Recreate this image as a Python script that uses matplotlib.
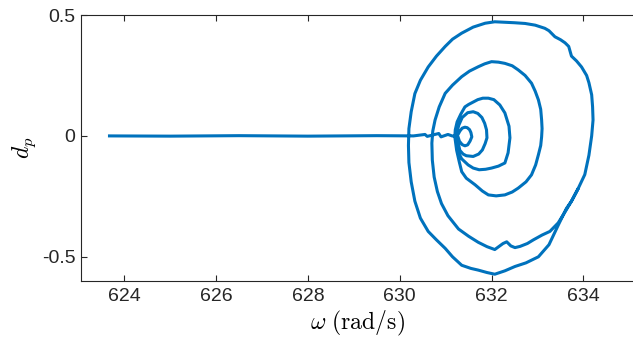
import matplotlib

matplotlib.use("Agg")
import matplotlib.pyplot as plt

# trajectory: frequency (rad/s) vs d_p
# drift along d_p = 0
drift_omega = [623.68, 625.0, 626.5, 628.0, 629.5, 630.3, 630.55, 630.6, 630.85, 630.9, 631.05, 631.14]
drift_d = [0.0, -0.001, 0.001, -0.001, 0.001, 0.0, 0.006, -0.002, 0.010, -0.004, 0.006, 0.0]

# first (smallest) loop
loop1_omega = [631.27, 631.30, 631.36, 631.42, 631.48, 631.53, 631.57, 631.55, 631.52, 631.47,
               631.42, 631.36, 631.31, 631.27, 631.25]
loop1_d = [-0.004, -0.022, -0.036, -0.041, -0.037, -0.022, -0.004, 0.014, 0.026, 0.034,
           0.036, 0.032, 0.020, 0.006, 0.0]

loop2_omega = [631.26, 631.28, 631.31, 631.38, 631.45, 631.60, 631.72, 631.80, 631.86, 631.90,
               631.89, 631.85, 631.79, 631.70, 631.60, 631.48, 631.36, 631.29, 631.25, 631.23]
loop2_d = [-0.020, -0.035, -0.060, -0.075, -0.082, -0.085, -0.075, -0.058, -0.032, -0.008,
           0.025, 0.052, 0.076, 0.093, 0.100, 0.096, 0.076, 0.046, 0.020, 0.0]

loop3_omega = [631.24, 631.27, 631.35, 631.49, 631.60, 631.73, 631.87, 632.00, 632.15, 632.29,
               632.36, 632.40, 632.38, 632.29, 632.18, 632.05, 631.93, 631.81, 631.70, 631.60,
               631.50, 631.42, 631.33, 631.25, 631.21, 631.20]
loop3_d = [-0.035, -0.066, -0.095, -0.120, -0.133, -0.140, -0.138, -0.133, -0.125, -0.112,
           -0.070, -0.008, 0.040, 0.095, 0.128, 0.150, 0.156, 0.156, 0.150, 0.140,
           0.130, 0.120, 0.090, 0.058, 0.025, -0.004]

loop4_omega = [631.24, 631.30, 631.35, 631.45, 631.64, 631.80, 631.93, 632.10, 632.29, 632.45,
               632.58, 632.75, 632.87, 632.96, 633.02, 633.07, 633.09, 633.10, 633.09, 633.07,
               633.02, 632.95, 632.87, 632.73, 632.58, 632.45, 632.29, 632.15, 632.00, 631.85,
               631.71, 631.52, 631.35, 631.15, 630.99, 630.86, 630.77, 630.72, 630.70]
loop4_d = [-0.060, -0.110, -0.148, -0.175, -0.202, -0.228, -0.244, -0.248, -0.244, -0.232,
           -0.216, -0.190, -0.161, -0.120, -0.078, -0.040, -0.004, 0.030, 0.066, 0.110,
           0.149, 0.185, 0.218, 0.250, 0.273, 0.290, 0.300, 0.305, 0.307, 0.298,
           0.286, 0.268, 0.245, 0.210, 0.176, 0.120, 0.066, 0.020, -0.030]

# fifth loop: its lower half merges into the outer cycle
loop5_omega = [630.71, 630.75, 630.82, 630.91, 631.05, 631.28, 631.50, 631.71, 631.90, 632.07,
               632.18, 632.25, 632.33, 632.42, 632.51, 632.62, 632.78, 632.91, 633.10, 633.27,
               633.45, 633.63, 633.74, 633.88, 634.03, 634.12, 634.18, 634.21, 634.20, 634.18,
               634.12, 634.07, 633.96, 633.85, 633.74, 633.68, 633.60, 633.50, 633.38, 633.25,
               633.16, 632.95, 632.73, 632.50, 632.29, 632.07, 631.86, 631.60, 631.35, 631.15,
               630.99, 630.80, 630.62, 630.45, 630.33, 630.25, 630.20, 630.19]
loop5_d = [-0.100, -0.170, -0.230, -0.280, -0.330, -0.385, -0.415, -0.440, -0.458, -0.470,
           -0.455, -0.445, -0.438, -0.455, -0.462, -0.457, -0.445, -0.430, -0.410, -0.395,
           -0.360, -0.305, -0.270, -0.220, -0.160, -0.080, 0.0, 0.066, 0.120, 0.170,
           0.220, 0.250, 0.285, 0.310, 0.330, 0.370, 0.385, 0.398, 0.410, 0.435,
           0.445, 0.458, 0.465, 0.468, 0.470, 0.472, 0.466, 0.450, 0.425, 0.400,
           0.370, 0.330, 0.285, 0.230, 0.175, 0.100, 0.030, -0.040]

# last half turn on the outer cycle
outer_omega = [630.20, 630.25, 630.33, 630.45, 630.62, 630.80, 630.99, 631.15, 631.35, 631.55,
               631.71, 631.90, 632.07, 632.18, 632.29, 632.51, 632.75, 633.02, 633.25, 633.45,
               633.63, 633.74, 633.88]
outer_d = [-0.110, -0.190, -0.270, -0.340, -0.395, -0.430, -0.465, -0.500, -0.535, -0.548,
           -0.555, -0.565, -0.572, -0.565, -0.558, -0.540, -0.525, -0.500, -0.450, -0.370,
           -0.300, -0.270, -0.220]

x_ticks = [624, 626, 628, 630, 632, 634]
y_ticks = [-0.5, 0, 0.5]
y_tick_labels = ["-0.5", "0", "0.5"]

omega = drift_omega + loop1_omega + loop2_omega + loop3_omega + loop4_omega + loop5_omega + outer_omega
d_p = drift_d + loop1_d + loop2_d + loop3_d + loop4_d + loop5_d + outer_d

plt.rcParams["font.family"] = ["Liberation Sans", "DejaVu Sans"]
plt.rcParams["mathtext.fontset"] = "cm"

fig = plt.figure(figsize=(6.33, 3.41), dpi=100)
ax = fig.add_axes([0.128, 0.176, 0.872, 0.780])

ax.plot(omega, d_p, color="#0072BD", linewidth=2.2, solid_joinstyle="round")

ax.set_xlim(623.06, 635.08)
ax.set_ylim(-0.6, 0.5)
ax.set_xticks(x_ticks)
ax.set_yticks(y_ticks)
ax.set_yticklabels(y_tick_labels)

axis_grey = "#262626"
for side in ["left", "bottom", "top"]:
    ax.spines[side].set_color(axis_grey)
    ax.spines[side].set_linewidth(0.8)
ax.spines["right"].set_visible(False)
ax.tick_params(direction="in", length=4, width=0.8, colors=axis_grey,
               labelsize=14, top=True, right=False)
ax.tick_params(axis="x", pad=5)
ax.tick_params(axis="y", pad=4)

ax.set_xlabel(r"$\omega\ \mathrm{(rad/s)}$", fontsize=17, labelpad=3)
ax.set_ylabel(r"$d_p$", fontsize=17, labelpad=3)

fig.savefig("out.png", dpi=100)
